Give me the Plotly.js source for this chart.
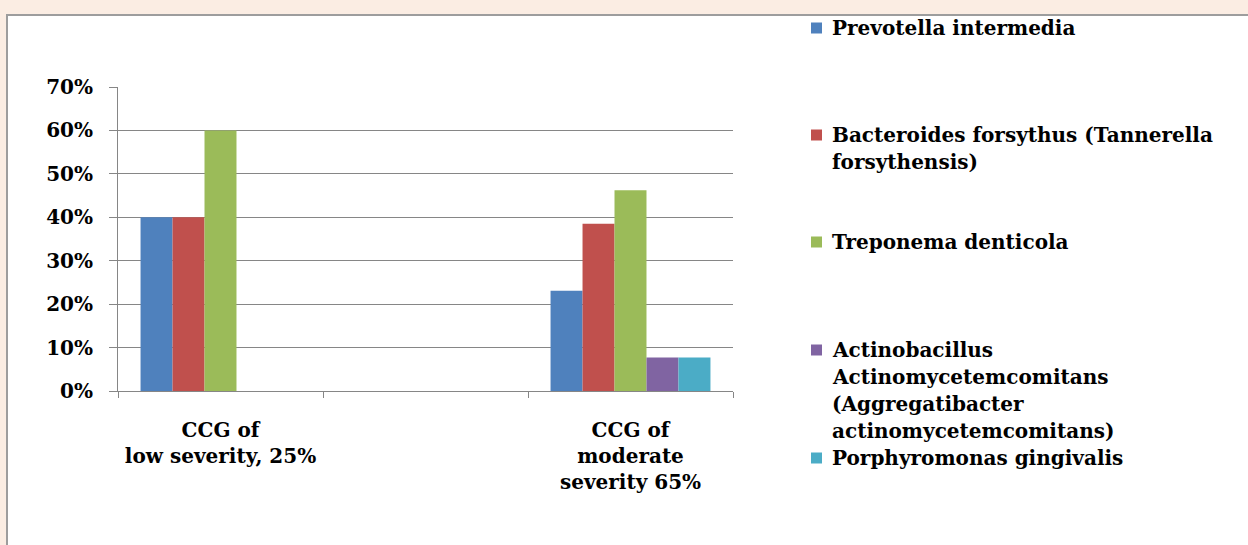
<!DOCTYPE html>
<html>
<head>
<meta charset="utf-8">
<script src="https://cdn.plot.ly/plotly-3.0.1.min.js"></script>
<style>html,body{margin:0;padding:0;background:#fbede3;}#chart{width:1248px;height:545px;}</style>
</head>
<body>
<div id="chart"></div>
<script>
// ---- data ----
var categories = ["CCG of<br>low severity, 25%", " ", "CCG of<br>moderate<br>severity 65%"];
var barCategories = ["CCG of<br>low severity, 25%", "CCG of<br>moderate<br>severity 65%"];
var seriesNames = [
  "Prevotella intermedia",
  "Bacteroides forsythus (Tannerella forsythensis)",
  "Treponema denticola",
  "Actinobacillus Actinomycetemcomitans (Aggregatibacter actinomycetemcomitans)",
  "Porphyromonas gingivalis"
];
var legendLines = [
  ["Prevotella intermedia"],
  ["Bacteroides forsythus (Tannerella", "forsythensis)"],
  ["Treponema denticola"],
  ["Actinobacillus", "Actinomycetemcomitans", "(Aggregatibacter", "actinomycetemcomitans)"],
  ["Porphyromonas gingivalis"]
];
var prevotella = [0.40, 0.231];
var bacteroides = [0.40, 0.385];
var treponema = [0.60, 0.462];
var actinobacillus = [0, 0.077];
var porphyromonas = [0, 0.077];
var seriesValues = [prevotella, bacteroides, treponema, actinobacillus, porphyromonas];
var colors = ["#4f81bd", "#c0504d", "#9bbb59", "#8064a2", "#4bacc6"];
var yTickVals = [0, 0.1, 0.2, 0.3, 0.4, 0.5, 0.6, 0.7];
var yTickText = ["0%", "10%", "20%", "30%", "40%", "50%", "60%", "70%"];

// ---- layout helpers ----
var L = 118, R = 733, T = 87, B = 391;
function xp(px) { return (px - L) / (R - L); }
function yp(py) { return (B - py) / (B - T); }
var FONT = "DejaVu Serif";
var FSIZE = 20;
var TXT = { family: FONT, size: FSIZE, color: "#000", weight: "bold" };

var traces = seriesNames.map(function (n, i) {
  return {
    type: "bar", name: n, x: barCategories, y: seriesValues[i],
    marker: { color: colors[i], line: { width: 0 } },
    hoverinfo: "name+y", showlegend: false
  };
});

var shapes = [{
  type: "rect", xref: "paper", yref: "paper", layer: "below",
  x0: xp(7), x1: xp(1300), y0: yp(600), y1: yp(15),
  fillcolor: "#ffffff", line: { color: "#9d9d9d", width: 2 }
}];
var annotations = [];
var legendStartY = [28, 135, 242, 350, 458];
var lineH = 27;
legendLines.forEach(function (lines, i) {
  var y0 = legendStartY[i];
  shapes.push({
    type: "rect", xref: "paper", yref: "paper",
    x0: xp(811), x1: xp(822), y0: yp(y0 + 5.5), y1: yp(y0 - 5.5),
    fillcolor: colors[i], line: { width: 0 }
  });
  lines.forEach(function (t, k) {
    annotations.push({
      xref: "paper", yref: "paper", x: xp(830), y: yp(y0 + k * lineH),
      xanchor: "left", yanchor: "middle", showarrow: false, text: t,
      font: TXT
    });
  });
});

var layout = {
  width: 1248, height: 545,
  margin: { l: L, r: 1248 - R, t: T, b: 545 - B, pad: 0 },
  paper_bgcolor: "#fbede3", plot_bgcolor: "rgba(0,0,0,0)",
  barmode: "group", bargap: 0.22, bargroupgap: 0,
  font: TXT,
  showlegend: false,
  xaxis: {
    type: "category", categoryorder: "array", categoryarray: categories,
    tickmode: "array", tickvals: categories, ticktext: categories,
    range: [-0.5, 2.5], showgrid: false, zeroline: false,
    showline: true, linecolor: "#868686", linewidth: 1,
    ticks: "outside", tickson: "boundaries", ticklen: 6, tickcolor: "#868686",
    ticklabelstandoff: 21,
    tickfont: TXT
  },
  yaxis: {
    range: [0, 0.7], tickmode: "array", tickvals: yTickVals, ticktext: yTickText,
    showgrid: true, gridcolor: "#868686", gridwidth: 1, zeroline: false,
    showline: true, linecolor: "#868686", linewidth: 1,
    ticks: "outside", ticklen: 8, tickcolor: "#868686",
    ticklabelstandoff: 12,
    tickfont: TXT
  },
  shapes: shapes,
  annotations: annotations
};

Plotly.newPlot("chart", traces, layout, { displayModeBar: false, staticPlot: true });
</script>
</body>
</html>
